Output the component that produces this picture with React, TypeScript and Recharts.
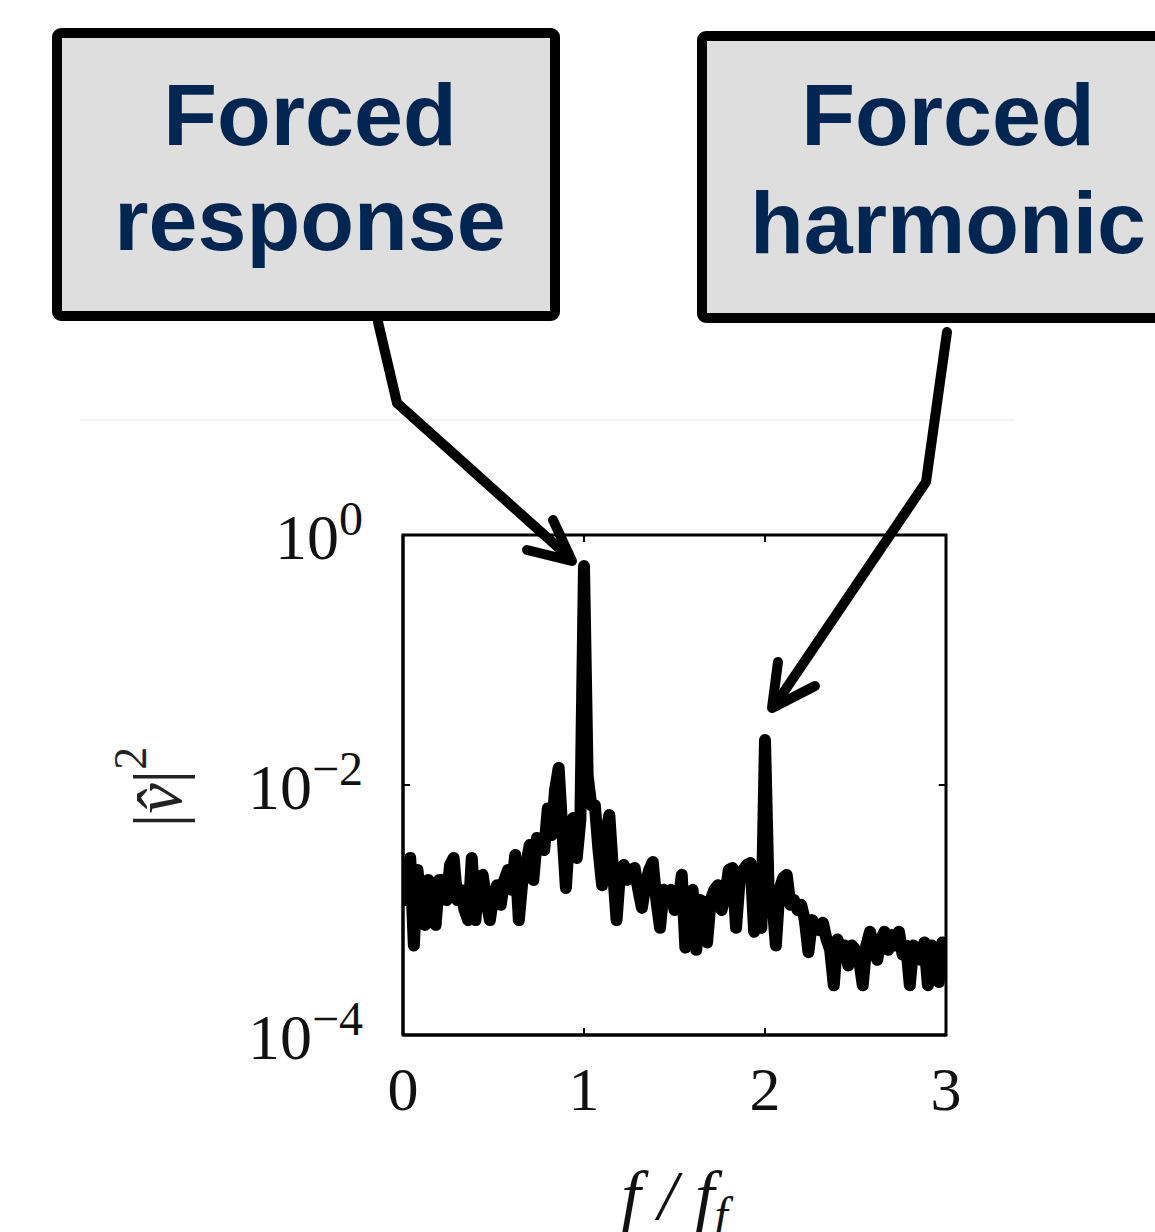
import { LineChart, Line, XAxis, YAxis, Label, ReferenceArea, ReferenceLine } from 'recharts'

// spectrum |v^|^2 sampled every 0.02 f/f_f, from 0 to 3
const FREQ_STEP = 0.02
const PSD = [
  2.09e-3, 1.2e-3, 2.61e-3, 5.2e-4, 2.09e-3, 1.1e-3, 7.6e-4, 1.74e-3, 1.32e-3, 7.6e-4,
  1.74e-3, 1.74e-3, 1.2e-3, 2.29e-3, 2.61e-3, 1.2e-3, 1.45e-3, 1.0e-3, 8.3e-4, 2.61e-3,
  8.3e-4, 1.74e-3, 1.91e-3, 1.2e-3, 8.3e-4, 1.32e-3, 1.58e-3, 1.1e-3, 1.74e-3, 2.09e-3,
  1.45e-3, 2.75e-3, 8.3e-4, 1.74e-3, 2.29e-3, 3.31e-3, 1.74e-3, 3.77e-3, 3.63e-3, 3.02e-3,
  6.5e-3, 3.98e-3, 9.1e-3, 1.37e-2, 4.37e-3, 1.5e-3, 4.37e-3, 5.45e-3, 2.61e-3, 5.25e-3,
  0.565, 1.2e-2, 6.9e-3, 6.9e-3, 3.02e-3, 1.58e-3, 3.98e-3, 5.75e-3, 2.09e-3, 8.3e-4,
  2.09e-3, 2.29e-3, 1.74e-3, 2.09e-3, 2.17e-3, 1.45e-3, 1.04e-3, 1.58e-3, 2.09e-3, 2.42e-3,
  1.2e-3, 7.2e-4, 1.45e-3, 1.2e-3, 1.45e-3, 1.0e-3, 1.1e-3, 1.91e-3, 5.0e-4, 1.2e-3,
  1.45e-3, 4.8e-4, 1.2e-3, 1.16e-3, 5.5e-4, 1.2e-3, 1.45e-3, 1.58e-3, 1.0e-3, 1.32e-3,
  2.09e-3, 2.17e-3, 7.2e-4, 1.74e-3, 2.09e-3, 2.29e-3, 2.38e-3, 6.7e-4, 1.74e-3, 7.2e-4,
  2.29e-2, 1.39e-3, 1.2e-3, 5.2e-4, 1.45e-3, 1.8e-3, 1.91e-3, 1.1e-3, 1.2e-3, 1.0e-3,
  1.1e-3, 8.3e-4, 4.6e-4, 8.3e-4, 7.6e-4, 6.9e-4, 7.9e-4, 5.8e-4, 4.8e-4, 2.5e-4,
  5.8e-4, 4.8e-4, 5.2e-4, 3.6e-4, 5.2e-4, 4.8e-4, 4.0e-4, 2.5e-4, 5.2e-4, 6.7e-4,
  4.8e-4, 4.0e-4, 5.8e-4, 6.7e-4, 4.8e-4, 6.3e-4, 5.2e-4, 6.7e-4, 4.4e-4, 5.2e-4,
  2.5e-4, 5.2e-4, 4.8e-4, 4.0e-4, 5.5e-4, 2.5e-4, 5.2e-4, 4.4e-4, 2.65e-4, 5.5e-4,
  4.0e-4,
]

const X_TICKS = [0, 1, 2, 3]
const Y_TICKS = [1e-4, 1e-2, 1]
const Y_TICK_EXP = ['−4', '−2', '0']
const X_MIN = 0
const X_MAX = 3
const Y_MIN = 1e-4
const Y_MAX = 1

const data = PSD.map((v, i) => ({ f: +(i * FREQ_STEP).toFixed(2), v }))

const SERIF = '"Liberation Serif", "Times New Roman", serif'
const SANS = '"Liberation Sans", Arial, sans-serif'
const NAVY = '#012652'

function BottomTick({ x, y, payload }: any) {
  return (
    <g>
      <line x1={x} y1={y} x2={x} y2={y - 7} stroke="#000" strokeWidth={2} />
      <text x={x} y={y + 75} textAnchor="middle" fontFamily={SERIF} fontSize={62} fill="#111">
        {payload.value}
      </text>
    </g>
  )
}

function LeftTick({ x, y, payload }: any) {
  const idx = Y_TICKS.indexOf(payload.value)
  return (
    <g>
      <line x1={x} y1={y} x2={x + 7} y2={y} stroke="#000" strokeWidth={2} />
      <text x={x - 40} y={y + 24} textAnchor="end" fontFamily={SERIF} fontSize={64} fill="#111">
        10
        <tspan dy={-24} fontSize={48}>{Y_TICK_EXP[idx]}</tspan>
      </text>
    </g>
  )
}

function YTitle({ viewBox }: any) {
  const cx = viewBox.x - 95
  const cy = viewBox.y + viewBox.height / 2 + 2
  return (
    <text
      x={cx}
      y={cy}
      transform={`rotate(-90 ${cx} ${cy})`}
      textAnchor="middle"
      dominantBaseline="central"
      fontFamily={SERIF}
      fontSize={68}
      fill="#222"
    >
      |<tspan fontStyle="italic">v̂</tspan>|<tspan dy={-28} fontSize={46}>2</tspan>
    </text>
  )
}

function XTitle({ viewBox }: any) {
  const cx = viewBox.x + viewBox.width / 2
  return (
    <text x={cx} y={viewBox.y + 184} textAnchor="middle" fontFamily={SERIF} fontSize={70} fontStyle="italic" fill="#111">
      f / f<tspan dy={12} fontSize={48}>f</tspan>
    </text>
  )
}

function Callouts() {
  const arrow = { fill: 'none', stroke: '#000', strokeWidth: 10, strokeLinecap: 'round' as const, strokeLinejoin: 'round' as const }
  return (
    <svg width={1155} height={1232} style={{ position: 'absolute', left: 0, top: 0, pointerEvents: 'none' }}>
      <line x1={80} y1={420} x2={1015} y2={420} stroke="#f3f3f3" strokeWidth={2} />
      <rect x={57} y={33} width={498} height={283} rx={4} fill="#dedede" stroke="#000" strokeWidth={10} />
      <text x={310} y={145} textAnchor="middle" fontFamily={SANS} fontWeight="bold" fontSize={88} fill={NAVY}>Forced</text>
      <text x={310} y={250} textAnchor="middle" fontFamily={SANS} fontWeight="bold" fontSize={88} fill={NAVY}>response</text>
      <rect x={702} y={36} width={480} height={282} rx={4} fill="#dedede" stroke="#000" strokeWidth={10} />
      <text x={948} y={145} textAnchor="middle" fontFamily={SANS} fontWeight="bold" fontSize={88} fill={NAVY}>Forced</text>
      <text x={948} y={253} textAnchor="middle" fontFamily={SANS} fontWeight="bold" fontSize={88} fill={NAVY}>harmonic</text>
      <polyline points="378,322 397,403 570,558" {...arrow} />
      <polyline points="553,520 572,561 527,550" {...arrow} />
      <polyline points="947,332 926,482 775,705" {...arrow} />
      <polyline points="778,662 772,708 815,686" {...arrow} />
    </svg>
  )
}

export default function App() {
  return (
    <div style={{ position: 'relative', width: 1155, height: 1232, overflow: 'hidden', background: '#fff' }}>
      <style>{'body{margin:0}'}</style>
      <LineChart
        width={1155}
        height={1232}
        data={data}
        margin={{ top: 535, right: 209, bottom: 117, left: 253 }}
      >
        <XAxis
          dataKey="f"
          type="number"
          domain={[X_MIN, X_MAX]}
          ticks={X_TICKS}
          height={80}
          tickSize={0}
          tickMargin={0}
          tick={<BottomTick />}
          axisLine={{ stroke: '#000', strokeWidth: 3 }}
          tickLine={false}
          allowDataOverflow
        >
          <Label content={<XTitle />} />
        </XAxis>
        <YAxis
          dataKey="v"
          scale="log"
          domain={[Y_MIN, Y_MAX]}
          ticks={Y_TICKS}
          width={150}
          tickSize={0}
          tickMargin={0}
          tick={<LeftTick />}
          axisLine={{ stroke: '#000', strokeWidth: 3 }}
          tickLine={false}
          allowDataOverflow
        >
          <Label content={<YTitle />} />
        </YAxis>
        <ReferenceArea x1={X_MIN} x2={X_MAX} y1={Y_MIN} y2={Y_MAX} fill="none" fillOpacity={0} stroke="#000" strokeWidth={3} />
        <ReferenceLine segment={[{ x: 1, y: Y_MAX }, { x: 1, y: 0.88 }]} stroke="#000" strokeWidth={2} />
        <ReferenceLine segment={[{ x: 2, y: Y_MAX }, { x: 2, y: 0.88 }]} stroke="#000" strokeWidth={2} />
        <ReferenceLine segment={[{ x: X_MAX, y: 1e-2 }, { x: 2.96, y: 1e-2 }]} stroke="#000" strokeWidth={2} />
        <Line
          dataKey="v"
          type="linear"
          stroke="#000"
          strokeWidth={12}
          strokeLinejoin="round"
          dot={false}
          activeDot={false}
          isAnimationActive={false}
        />
      </LineChart>
      <Callouts />
    </div>
  )
}
